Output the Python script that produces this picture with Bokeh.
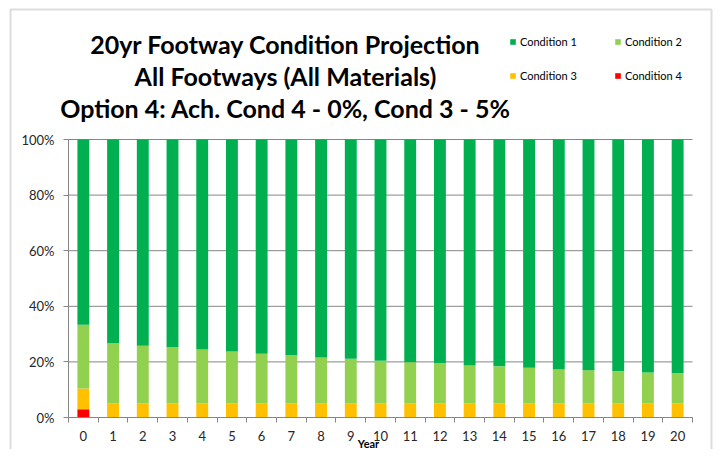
from bokeh.plotting import figure
from bokeh.models import (ColumnDataSource, FixedTicker, Legend, LegendItem, Label,
                          NumeralTickFormatter, Range1d, BoxAnnotation)
from bokeh.embed import file_html
from bokeh.resources import INLINE

years = list(range(21))
year_labels = [str(y) for y in years]
# percentage shares
cond4 = [3.0] + [0.0] * 20
cond3 = [7.4] + [5.0] * 20
cond2 = [23.0, 21.7, 20.8, 20.3, 19.5, 18.7, 17.9, 17.5, 16.6, 16.1, 15.4,
         14.9, 14.6, 13.7, 13.4, 12.9, 12.4, 12.0, 11.6, 11.2, 10.9]
cond1 = [100 - a - b - c for a, b, c in zip(cond2, cond3, cond4)]
y_ticks = [0, 0.2, 0.4, 0.6, 0.8, 1.0]

series_names = ["Condition 1", "Condition 2", "Condition 3", "Condition 4"]
colors = {"Condition 1": "#00B050", "Condition 2": "#92D050",
          "Condition 3": "#FFC000", "Condition 4": "#FF0000"}

title_lines = ["20yr Footway Condition Projection",
               "All Footways (All Materials)",
               "Option 4: Ach. Cond 4 - 0%, Cond 3 - 5%"]
x_title = "Year"

src = ColumnDataSource(dict(x=years,
                            c4=[v / 100 for v in cond4],
                            c3=[v / 100 for v in cond3],
                            c2=[v / 100 for v in cond2],
                            c1=[v / 100 for v in cond1]))

W, H = 713, 449
# plot area inside the canvas (pixels): left 68, right 21, top 139, bottom 32
PL, PR, PT, PB = 68, 21, 139, 32
ux = (W - PL - PR) / 21.0
uy = (H - PT - PB) / 1.0
p = figure(width=W, height=H, output_backend="svg", toolbar_location=None,
           x_range=Range1d(-0.5 - PL / ux, 20.5 + PR / ux),
           y_range=Range1d(-PB / uy, 1 + PT / uy),
           min_border=0)
p.outline_line_color = None
p.background_fill_color = "white"
p.border_fill_color = "white"
p.xgrid.grid_line_color = None
p.ygrid.grid_line_color = None

# horizontal gridlines across the category span
p.segment(x0=[-0.5] * 5, x1=[20.5] * 5, y0=y_ticks[1:], y1=y_ticks[1:],
          line_color="#868686", line_width=1)

stack_order = ["c4", "c3", "c2", "c1"]
stack_names = ["Condition 4", "Condition 3", "Condition 2", "Condition 1"]
renderers = p.vbar_stack(stack_order, x="x", width=0.4, source=src,
                         color=[colors[n] for n in stack_names], line_color=None)
rmap = dict(zip(stack_names, renderers))

FONT = "Lato"

# axes drawn at fixed locations inside the canvas
xa = p.xaxis[0]
xa.fixed_location = 0
xa.bounds = (-0.5, 20.5)
xa.ticker = FixedTicker(ticks=years, minor_ticks=[y - 0.5 for y in years] + [20.5])
xa.major_label_overrides = {y: s for y, s in zip(years, year_labels)}
xa.major_tick_out = 0
xa.major_tick_in = 0
xa.minor_tick_out = 5
xa.minor_tick_in = 0
xa.minor_tick_line_color = "#868686"
xa.axis_line_color = "#868686"
xa.major_label_standoff = 8
xa.major_label_text_font = FONT
xa.major_label_text_font_size = "13px"
xa.major_label_text_color = "#262626"

ya = p.yaxis[0]
ya.fixed_location = -0.5
ya.bounds = (0, 1)
ya.ticker = FixedTicker(ticks=y_ticks)
ya.formatter = NumeralTickFormatter(format="0%")
ya.major_tick_out = 5
ya.major_tick_in = 0
ya.minor_tick_line_color = None
ya.major_tick_line_color = "#868686"
ya.axis_line_color = "#868686"
ya.major_label_standoff = 9
ya.major_label_text_font = FONT
ya.major_label_text_font_size = "13px"
ya.major_label_text_color = "#262626"

# titles (screen px from the canvas' bottom-left)
for t, yy in zip(title_lines, [H - 43, H - 75, H - 107]):
    p.add_layout(Label(x=285, y=yy, x_units="screen", y_units="screen", text=t,
                       text_align="center", text_baseline="middle",
                       text_font=FONT, text_font_style="bold", text_font_size="25px",
                       text_color="#000000"))

p.add_layout(Label(x=368, y=0, x_units="screen", y_units="screen", text=x_title,
                   text_align="center", text_baseline="bottom",
                   text_font=FONT, text_font_style="bold", text_font_size="11px",
                   text_color="#000000"))

# legend, two rows
rows = [series_names[:2], series_names[2:]]
for row, cy in zip(rows, [42, 76]):
    items = [LegendItem(label=n, renderers=[rmap[n]]) for n in row]
    leg = Legend(items=items, orientation="horizontal", location=(509, H - cy - 6),
                 glyph_width=7, glyph_height=7, label_standoff=4, label_width=88,
                 label_height=12, spacing=6, padding=0, margin=0,
                 border_line_color=None, background_fill_alpha=0,
                 label_text_font=FONT, label_text_font_size="11px",
                 label_text_color="#000000")
    p.add_layout(leg, "center")

# outer chart border
p.add_layout(BoxAnnotation(left=10, right=711, top=H - 9, bottom=-20,
                           left_units="screen", right_units="screen",
                           top_units="screen", bottom_units="screen",
                           fill_alpha=0, line_color="#8f8f8f", line_width=2))

open("out.html", "w").write(file_html(p, INLINE))
